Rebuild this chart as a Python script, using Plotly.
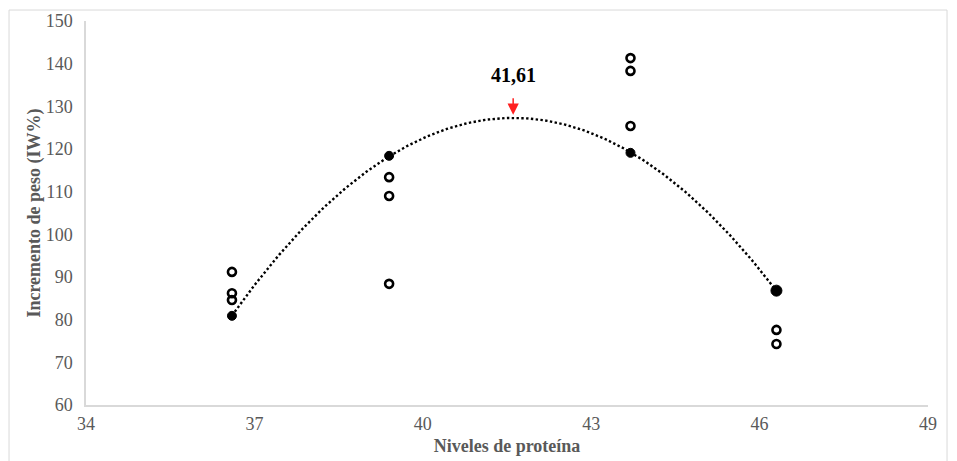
import numpy as np
import plotly.graph_objects as go

# Data
niveles = [36.6, 39.4, 43.7, 46.3]
medias = [80.9, 118.4, 119.1, 86.8]          # filled points (on trend line)
obs_x = [36.6, 36.6, 36.6, 39.4, 39.4, 39.4, 43.7, 43.7, 43.7, 46.3, 46.3]
obs_y = [91.2, 86.2, 84.6, 113.4, 109.0, 88.4, 141.3, 138.3, 125.4, 77.6, 74.3]
optimo_x = 41.61
optimo_label = "41,61"

x_ticks = [34, 37, 40, 43, 46, 49]
y_ticks = [60, 70, 80, 90, 100, 110, 120, 130, 140, 150]

# Polynomial (order 2) trend line fitted to the means
coef = np.polyfit(niveles, medias, 2)
xs = np.linspace(min(niveles), max(niveles), 300)
ys = np.polyval(coef, xs)

grey = "#595959"
font_family = "Liberation Serif, Times New Roman, serif"

fig = go.Figure()
fig.add_trace(go.Scatter(x=xs, y=ys, mode="lines",
                         line=dict(color="#000000", width=2.4, dash="2.4px,2.4px"),
                         hoverinfo="skip", showlegend=False))
fig.add_trace(go.Scatter(x=obs_x, y=obs_y, mode="markers",
                         marker=dict(symbol="circle-open", size=8, color="#000000", opacity=1,
                                     line=dict(width=2.6, color="#000000")),
                         showlegend=False))
fig.add_trace(go.Scatter(x=niveles, y=medias, mode="markers",
                         marker=dict(symbol="circle", size=[9, 9, 9, 11], color="#000000",
                                     opacity=1, line=dict(width=1, color="#000000")),
                         showlegend=False))

fig.add_annotation(x=optimo_x, y=128.0, xref="x", yref="y", text="",
                   showarrow=True, arrowhead=2, arrowsize=1.5, arrowwidth=1.5,
                   arrowcolor="#ff2020", ax=0, ay=-18)
fig.add_annotation(x=optimo_x, y=137.3, xref="x", yref="y",
                   text="<b>" + optimo_label + "</b>", showarrow=False,
                   font=dict(family=font_family, size=20, color="#000000"))

fig.add_shape(type="rect", xref="paper", yref="paper",
              x0=-0.0914, x1=1.0226, y0=-0.15, y1=1.0286,
              line=dict(color="#d9d9d9", width=1))

fig.update_layout(
    width=949, height=453,
    margin=dict(l=78, r=29, t=13, b=56, autoexpand=False),
    paper_bgcolor="white", plot_bgcolor="white",
    font=dict(family=font_family, color=grey, size=18),
    showlegend=False,
)
fig.update_xaxes(range=[34, 49], tickvals=x_ticks, showgrid=False, zeroline=False,
                 showline=True, linecolor="#d9d9d9", linewidth=1.5, ticks="",
                 automargin=False, ticklabelstandoff=2,
                 tickfont=dict(size=18, color=grey),
                 title=dict(text="<b>Niveles de proteína</b>", font=dict(size=18, color=grey),
                            standoff=6))
fig.update_yaxes(range=[60, 150], tickvals=y_ticks, showgrid=False, zeroline=False,
                 showline=True, linecolor="#d9d9d9", linewidth=1.5, ticks="",
                 automargin=False, ticklabelstandoff=8,
                 tickfont=dict(size=18, color=grey),
                 title=dict(text="<b>Incremento de peso (IW%)</b>", font=dict(size=18, color=grey),
                            standoff=0))

fig.write_html("out.html")
